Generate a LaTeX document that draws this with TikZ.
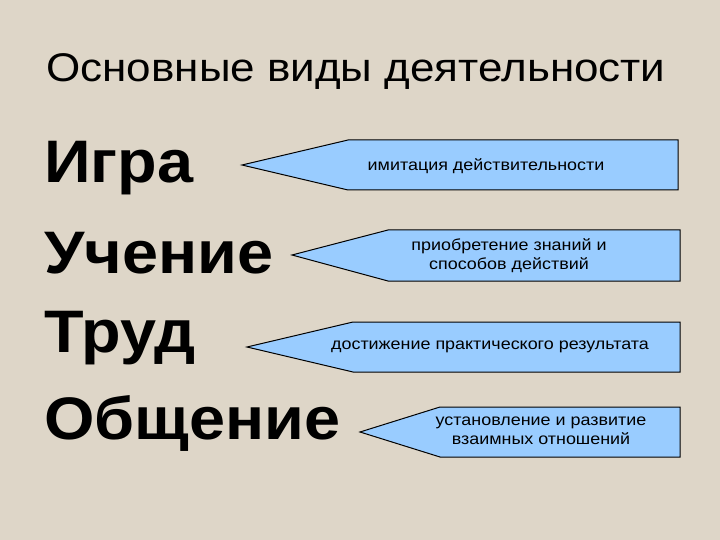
\documentclass[tikz,border=0pt]{standalone}
\usepackage{fontspec}
\setmainfont{Liberation Sans}
\definecolor{bg}{RGB}{222,214,200}
\definecolor{boxblue}{RGB}{153,204,255}
\begin{document}
\begin{tikzpicture}[x=1pt,y=-1pt,
  arr/.style={draw=black,line width=1pt,fill=boxblue},
  big/.style={anchor=west,inner sep=0,font=\fontsize{60}{60}\selectfont\bfseries},
  lbl/.style={align=center,font=\fontsize{16}{19}\selectfont}]
\fill[bg] (0,0) rectangle (720,540);
\useasboundingbox (0,0) rectangle (720,540);
\node[inner sep=0,font=\fontsize{40}{40}\selectfont] (title) at (356,72) {\scalebox{1.1}[1]{Основные виды деятельности}};
\node[big] (w1) at (44,168) {\scalebox{1.08}[1]{Игра}};
\node[big] (w2) at (44,253) {\scalebox{1.08}[1]{Учение}};
\node[big] (w3) at (44,338) {\scalebox{1.08}[1]{Труд}};
\node[big] (w4) at (44,423) {\scalebox{1.08}[1]{Общение}};
\draw[arr] (242,165) -- (348,140) -- (678,140) -- (678,190) -- (348,190) -- cycle;
\draw[arr] (292,255) -- (388,230) -- (680,230) -- (680,281) -- (388,281) -- cycle;
\draw[arr] (247,347) -- (353,322) -- (680,322) -- (680,372) -- (353,372) -- cycle;
\draw[arr] (360,432) -- (440,407) -- (680,407) -- (680,457) -- (440,457) -- cycle;
\node[lbl] (t1) at (486,166) {\scalebox{1.12}[1]{имитация действительности}};
\node[lbl] (t2) at (509,256) {\scalebox{1.12}[1]{приобретение знаний и}\\\scalebox{1.12}[1]{способов действий}};
\node[lbl] (t3) at (490,347) {\scalebox{1.12}[1]{достижение практического результата}};
\node[lbl] (t4) at (541,431) {\scalebox{1.12}[1]{установление и развитие}\\\scalebox{1.12}[1]{взаимных отношений}};
\end{tikzpicture}
\end{document}
